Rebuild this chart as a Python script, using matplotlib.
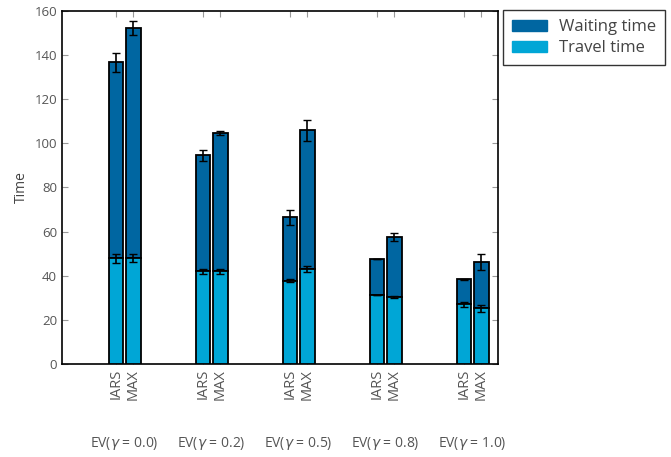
import numpy as np
import matplotlib.pyplot as plt
from matplotlib.patches import Patch

# --- data ---
groups = ["EV($\\gamma$ = 0.0)", "EV($\\gamma$ = 0.2)", "EV($\\gamma$ = 0.5)",
          "EV($\\gamma$ = 0.8)", "EV($\\gamma$ = 1.0)"]
methods = ["IARS", "MAX"]

travel_iars = [48, 42, 37.8, 31.2, 27.0]
travel_max = [48, 42, 43.0, 30.3, 25.2]
total_iars = [136.8, 94.6, 66.5, 47.5, 38.4]
total_max = [152.3, 104.6, 106.0, 57.4, 46.3]

travel_err_iars = [2.0, 1.0, 0.5, 0.0, 1.0]
travel_err_max = [1.8, 1.0, 1.3, 0.5, 1.5]
total_err_iars = [4.3, 2.5, 3.5, 0.0, 0.3]
total_err_max = [3.3, 1.0, 4.8, 1.8, 3.6]

plt.rcParams['font.family'] = ['Open Sans', 'DejaVu Sans']
plt.rcParams['mathtext.fontset'] = 'dejavusans'

c_wait = '#0066a1'
c_travel = '#00a6d6'

fig = plt.figure(figsize=(6.71, 4.57), dpi=100)
ax = fig.add_axes([0.0924, 0.2035, 0.6496, 0.7725])

x = np.arange(1, len(groups) + 1)
off, w = 0.1, 0.17
ekw = dict(ecolor='black', capsize=3, elinewidth=1.2, capthick=1.0)

for pos, trav, tot, terr, toterr in [
        (x - off, travel_iars, total_iars, travel_err_iars, total_err_iars),
        (x + off, travel_max, total_max, travel_err_max, total_err_max)]:
    trav = np.array(trav)
    wait = np.array(tot) - trav
    ax.bar(pos, wait, w, bottom=trav, color=c_wait, edgecolor='black',
           linewidth=1.3, yerr=toterr, error_kw=ekw, zorder=2)
    ax.bar(pos, trav, w, color=c_travel, edgecolor='black',
           linewidth=1.3, yerr=terr, error_kw=ekw, zorder=3)

# legend proxies
handles = [Patch(color=c_wait), Patch(color=c_travel)]
fig.legend(handles, ["Waiting time", "Travel time"], loc='upper left',
           bbox_to_anchor=(0.75, 0.978), borderaxespad=0, fontsize=12,
           frameon=True, fancybox=False, edgecolor='black', handlelength=2.1,
           handleheight=0.7, handletextpad=0.7, borderpad=0.55,
           labelspacing=0.3, labelcolor='#444444')

ax.set_xlim(0.28, 5.29)
ax.set_ylim(0, 160)
ax.set_yticks(np.arange(0, 161, 20))
ax.set_xticks(np.concatenate([x - off, x + off]))
ax.set_xticklabels(["IARS"] * 5 + ["MAX"] * 5, rotation=90)
ax.tick_params(axis='both', direction='in', top=True, right=True,
               color='#999999', length=4, labelsize=9.5, labelcolor='#555555')
ax.tick_params(axis='x', labelsize=10.5)
ax.set_ylabel("Time", fontsize=10, color='#444444')
for sp in ax.spines.values():
    sp.set_linewidth(1.2)

for xi, g in zip(x, groups):
    ax.text(xi, -0.225, g, transform=ax.get_xaxis_transform(),
            ha='center', va='center', fontsize=10, color='#555555')

fig.savefig("out.png", dpi=100)
